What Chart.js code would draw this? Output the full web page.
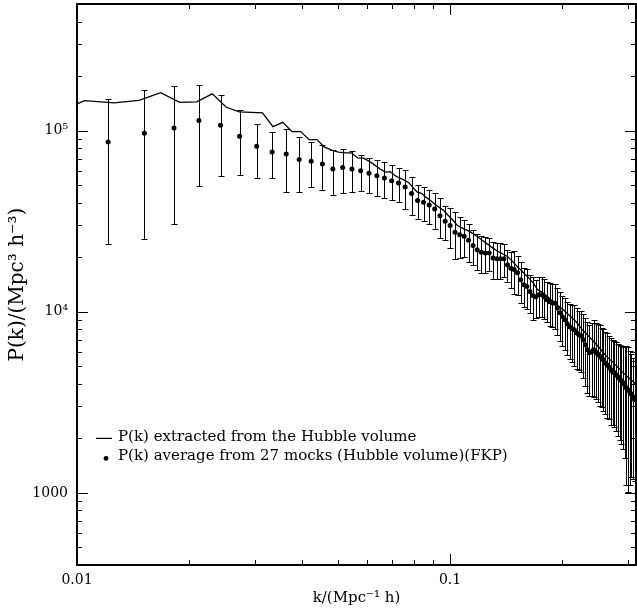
<!DOCTYPE html>
<html>
<head>
<meta charset="utf-8">
<script src="https://cdn.jsdelivr.net/npm/chart.js@4.4.1/dist/chart.umd.min.js"></script>
<style>
  html, body { margin: 0; padding: 0; background: #fff; }
  #wrap { width: 637px; height: 610px; position: relative; }
</style>
</head>
<body>
<div id="wrap"><canvas id="myChart"></canvas></div>
<script>
// P(k) extracted from the Hubble volume (solid line)
var kLine = [0.008378, 0.01047, 0.01257, 0.01466, 0.01676, 0.01885, 0.02094, 0.02304, 0.02513, 0.02723,
  0.02932, 0.03142, 0.03351, 0.0356, 0.0377, 0.03979, 0.04189, 0.04398, 0.04608, 0.04817,
  0.05027, 0.05236, 0.05445, 0.05655, 0.05864, 0.06074, 0.06283, 0.06493, 0.06702, 0.06912,
  0.07121, 0.0733, 0.0754, 0.07749, 0.07959, 0.08168, 0.08378, 0.08587, 0.08796, 0.09006,
  0.09215, 0.09425, 0.09634, 0.09844, 0.1005, 0.1026, 0.1047, 0.1089, 0.1131, 0.1173,
  0.1215, 0.1257, 0.1298, 0.134, 0.1382, 0.1424, 0.1466, 0.1508, 0.155, 0.1592,
  0.1634, 0.1676, 0.1717, 0.1759, 0.1801, 0.1843, 0.1885, 0.1948, 0.2011, 0.2094,
  0.2178, 0.2262, 0.2346, 0.2429, 0.2513, 0.2618, 0.2723, 0.2827, 0.2932, 0.3037, 0.3142];
var pLine = [118600, 146500, 142200, 147000, 162100, 143300, 144100, 159500, 134500, 126800,
  126000, 125200, 105200, 111100, 98700, 98700, 89200, 89200, 81000, 78000,
  76100, 75300, 75300, 70700, 70400, 67700, 64500, 61400, 59000, 59400,
  56400, 54600, 53300, 51600, 48400, 45700, 45100, 43200, 41600, 40000,
  38500, 37300, 36100, 34300, 32900, 31400, 29900, 28700, 27700, 26300,
  25000, 23700, 22600, 21600, 20900, 20200, 19100, 17900, 16950, 16000,
  15200, 14300, 13200, 12900, 12400, 11900, 11350, 10800, 10260, 9500,
  8810, 7950, 7370, 6830, 6330, 5710, 5290, 4900, 4540, 4260, 4000];

// P(k) average from 27 mocks, with 1-sigma errors
var kMock = [0.01212, 0.01516, 0.01819, 0.02122, 0.02425, 0.02728, 0.03031, 0.03334, 0.03637, 0.0394,
  0.04243, 0.04547, 0.0485, 0.05153, 0.05456, 0.05759, 0.06062, 0.06365, 0.06668, 0.06971,
  0.07274, 0.07578, 0.07881, 0.08184, 0.08487, 0.0879, 0.09093, 0.09396, 0.09699, 0.1,
  0.1031, 0.1061, 0.1091, 0.1121, 0.1152, 0.1182, 0.1212, 0.1243, 0.1273, 0.1303,
  0.1334, 0.1364, 0.1394, 0.1425, 0.1455, 0.1485, 0.1516, 0.1546, 0.1576, 0.1606,
  0.1637, 0.1667, 0.1697, 0.1728, 0.1758, 0.1788, 0.1819, 0.1849, 0.1879, 0.191,
  0.194, 0.197, 0.2, 0.2031, 0.2061, 0.2091, 0.2122, 0.2152, 0.2182, 0.2213,
  0.2243, 0.2273, 0.2304, 0.2334, 0.2364, 0.2394, 0.2425, 0.2455, 0.2485, 0.2516,
  0.2546, 0.2576, 0.2607, 0.2637, 0.2667, 0.2698, 0.2728, 0.2758, 0.2789, 0.2819,
  0.2849, 0.2879, 0.291, 0.294, 0.297, 0.3001, 0.3031, 0.3061, 0.3092, 0.3122];
var pMock = [86600, 96600, 103500, 113600, 107000, 93000, 81900, 76300, 74400, 69200,
  67700, 65500, 61400, 62500, 61400, 60100, 58200, 56400, 54800, 52900,
  51400, 48900, 44900, 41200, 40200, 38900, 36900, 33900, 31600, 29900,
  27500, 26600, 26100, 24800, 23200, 22000, 21300, 21100, 21100, 19800,
  19600, 19600, 19600, 18200, 17400, 17100, 16400, 15000, 14100, 13800,
  12950, 12300, 12100, 12400, 12400, 12100, 11650, 11350, 11200, 11150,
  10500, 9880, 9390, 9030, 8580, 8260, 8050, 7950, 7660, 7460,
  7370, 7000, 6570, 6170, 5940, 6020, 6170, 6020, 5870, 5710,
  5570, 5430, 5220, 5090, 4960, 4780, 4660, 4600, 4490, 4370,
  4260, 4160, 4050, 3950, 3800, 3710, 3610, 3520, 3390, 3270];
var errMock = [63000, 71300, 72800, 64100, 50800, 36300, 27000, 21500, 28300, 23400,
  19000, 18300, 17200, 17000, 15500, 13600, 12800, 12700, 12100, 11400,
  10900, 12100, 10700, 8700, 8650, 8250, 8250, 8300, 6700, 7500,
  8000, 6800, 6100, 5900, 5000, 4900, 4850, 4650, 4400, 4600,
  4450, 4450, 3950, 3600, 3950, 4500, 4000, 3800, 3450, 3500,
  3100, 3250, 2900, 3100, 3100, 3000, 2900, 3000, 3000, 3100,
  3100, 3000, 2900, 2900, 2800, 2800, 2800, 2900, 2800, 2700,
  2700, 2700, 2700, 2600, 2500, 2600, 2800, 2700, 2700, 2700,
  2600, 2600, 2500, 2500, 2400, 2400, 2300, 2300, 2300, 2300,
  2300, 2300, 2300, 2400, 2700, 2700, 2500, 2300, 2200, 2100];

// axes
var xTicks = [0.01, 0.1];
var xTickLabels = ['0.01', '0.1'];
var yTicks = [1000, 10000, 100000];
var yTickLabels = ['1000', '10\u2074', '10\u2075'];
var legendLabels = ['P(k) extracted from the Hubble volume',
  'P(k) average from 27 mocks (Hubble volume)(FKP)'];

Chart.defaults.font.family = "'DejaVu Serif', serif";
Chart.defaults.color = '#000';

// tick values 1..9 of each decade inside [lo, hi]
function minorTicks(lo, hi) {
  var out = [];
  for (var d = Math.pow(10, Math.floor(Math.log10(lo))); d < hi; d *= 10) {
    for (var m = 1; m < 10; m++) {
      var v = d * m;
      if (v >= lo && v <= hi) out.push(v);
    }
  }
  return out;
}

function noPadding(scale) {
  scale.paddingTop = 0;
  scale.paddingBottom = 0;
  scale.paddingLeft = 0;
  scale.paddingRight = 0;
}

// error bars drawn from the mock arrays
var errorBars = {
  id: 'errorBars',
  beforeDatasetsDraw: function(chart) {
    var ctx = chart.ctx, a = chart.chartArea, x = chart.scales.x, y = chart.scales.y;
    ctx.save();
    ctx.beginPath();
    ctx.rect(a.left, a.top, a.right - a.left, a.bottom - a.top);
    ctx.clip();
    ctx.strokeStyle = '#000';
    ctx.lineWidth = 1;
    ctx.beginPath();
    for (var i = 0; i < kMock.length; i++) {
      var px = Math.round(x.getPixelForValue(kMock[i])) + 0.5;
      var top = Math.round(y.getPixelForValue(pMock[i] + errMock[i])) + 0.5;
      var bot = Math.round(y.getPixelForValue(Math.max(pMock[i] - errMock[i], 1))) + 0.5;
      ctx.moveTo(px, top); ctx.lineTo(px, bot);
      ctx.moveTo(px - 3, top); ctx.lineTo(px + 3, top);
      ctx.moveTo(px - 3, bot); ctx.lineTo(px + 3, bot);
    }
    ctx.stroke();
    ctx.restore();
  }
};

// box, inward tick marks, and the legend
var frame = {
  id: 'frame',
  afterDraw: function(chart) {
    var ctx = chart.ctx, a = chart.chartArea, x = chart.scales.x, y = chart.scales.y;
    ctx.save();
    ctx.strokeStyle = '#000';
    ctx.lineWidth = 1;
    ctx.beginPath();
    minorTicks(x.min, x.max).forEach(function(v) {
      var major = xTicks.indexOf(v) >= 0;
      var len = major ? 11 : 5;
      var px = Math.round(x.getPixelForValue(v)) + 0.5;
      ctx.moveTo(px, a.bottom); ctx.lineTo(px, a.bottom - len);
      ctx.moveTo(px, a.top); ctx.lineTo(px, a.top + len);
    });
    minorTicks(y.min, y.max).forEach(function(v) {
      var major = yTicks.indexOf(v) >= 0;
      var len = major ? 11 : 5;
      var py = Math.round(y.getPixelForValue(v)) + 0.5;
      ctx.moveTo(a.left, py); ctx.lineTo(a.left + len, py);
      ctx.moveTo(a.right, py); ctx.lineTo(a.right - len, py);
    });
    ctx.stroke();
    ctx.lineWidth = 2;
    ctx.strokeRect(a.left, a.top, a.right - a.left, a.bottom - a.top);

    // legend
    var lx = a.left + 19, ly = y.getPixelForValue(2000);
    ctx.lineWidth = 1.2;
    ctx.beginPath();
    ctx.moveTo(lx, ly); ctx.lineTo(lx + 16, ly);
    ctx.stroke();
    ctx.fillStyle = '#000';
    ctx.beginPath();
    ctx.arc(lx + 10, ly + 20, 2.4, 0, Math.PI * 2);
    ctx.fill();
    ctx.font = "15px 'DejaVu Serif'";
    ctx.textBaseline = 'middle';
    ctx.fillText(legendLabels[0], lx + 22, ly - 1);
    ctx.fillText(legendLabels[1], lx + 22, ly + 18);
    ctx.restore();
  }
};

var ctx = document.getElementById('myChart').getContext('2d');
var myChart = new Chart(ctx, {
  type: 'scatter',
  data: {
    datasets: [{
      label: legendLabels[0],
      data: kLine.map(function(k, i) { return {x: k, y: pLine[i]}; }),
      showLine: true,
      borderColor: '#000',
      borderWidth: 1.3,
      pointRadius: 0,
      tension: 0
    }, {
      label: legendLabels[1],
      data: kMock.map(function(k, i) { return {x: k, y: pMock[i]}; }),
      showLine: false,
      pointRadius: 2.5,
      pointBackgroundColor: '#000',
      pointBorderWidth: 0
    }]
  },
  plugins: [errorBars, frame],
  options: {
    responsive: true,
    maintainAspectRatio: false,
    animation: false,
    layout: { autoPadding: false, padding: { top: 4, right: 1, left: 0, bottom: 0 } },
    plugins: {
      legend: { display: false },
      tooltip: { enabled: false }
    },
    scales: {
      x: {
        type: 'logarithmic',
        min: 0.01,
        max: 0.315,
        grid: { display: false, drawTicks: false },
        border: { display: false },
        afterBuildTicks: function(scale) {
          scale.ticks = xTicks.map(function(v) { return {value: v}; });
        },
        afterFit: function(scale) { scale.height = 45; noPadding(scale); },
        ticks: {
          autoSkip: false,
          maxRotation: 0,
          padding: 7,
          font: { size: 14 },
          callback: function(v) { return xTickLabels[xTicks.indexOf(v)]; }
        },
        title: {
          display: true,
          text: 'k/(Mpc\u207B\u00B9 h)',
          font: { size: 15 },
          padding: { top: 0, bottom: 3 }
        }
      },
      y: {
        type: 'logarithmic',
        min: 400,
        max: 500000,
        grid: { display: false, drawTicks: false },
        border: { display: false },
        afterBuildTicks: function(scale) {
          scale.ticks = yTicks.map(function(v) { return {value: v}; });
        },
        afterFit: function(scale) { scale.width = 77; noPadding(scale); },
        ticks: {
          autoSkip: false,
          padding: 9,
          font: { size: 14 },
          callback: function(v) { return yTickLabels[yTicks.indexOf(v)]; }
        },
        title: {
          display: true,
          text: 'P(k)/(Mpc\u00B3 h\u207B\u00B3)',
          font: { size: 20 },
          padding: { top: 6, bottom: 0 }
        }
      }
    }
  }
});
</script>
</body>
</html>
